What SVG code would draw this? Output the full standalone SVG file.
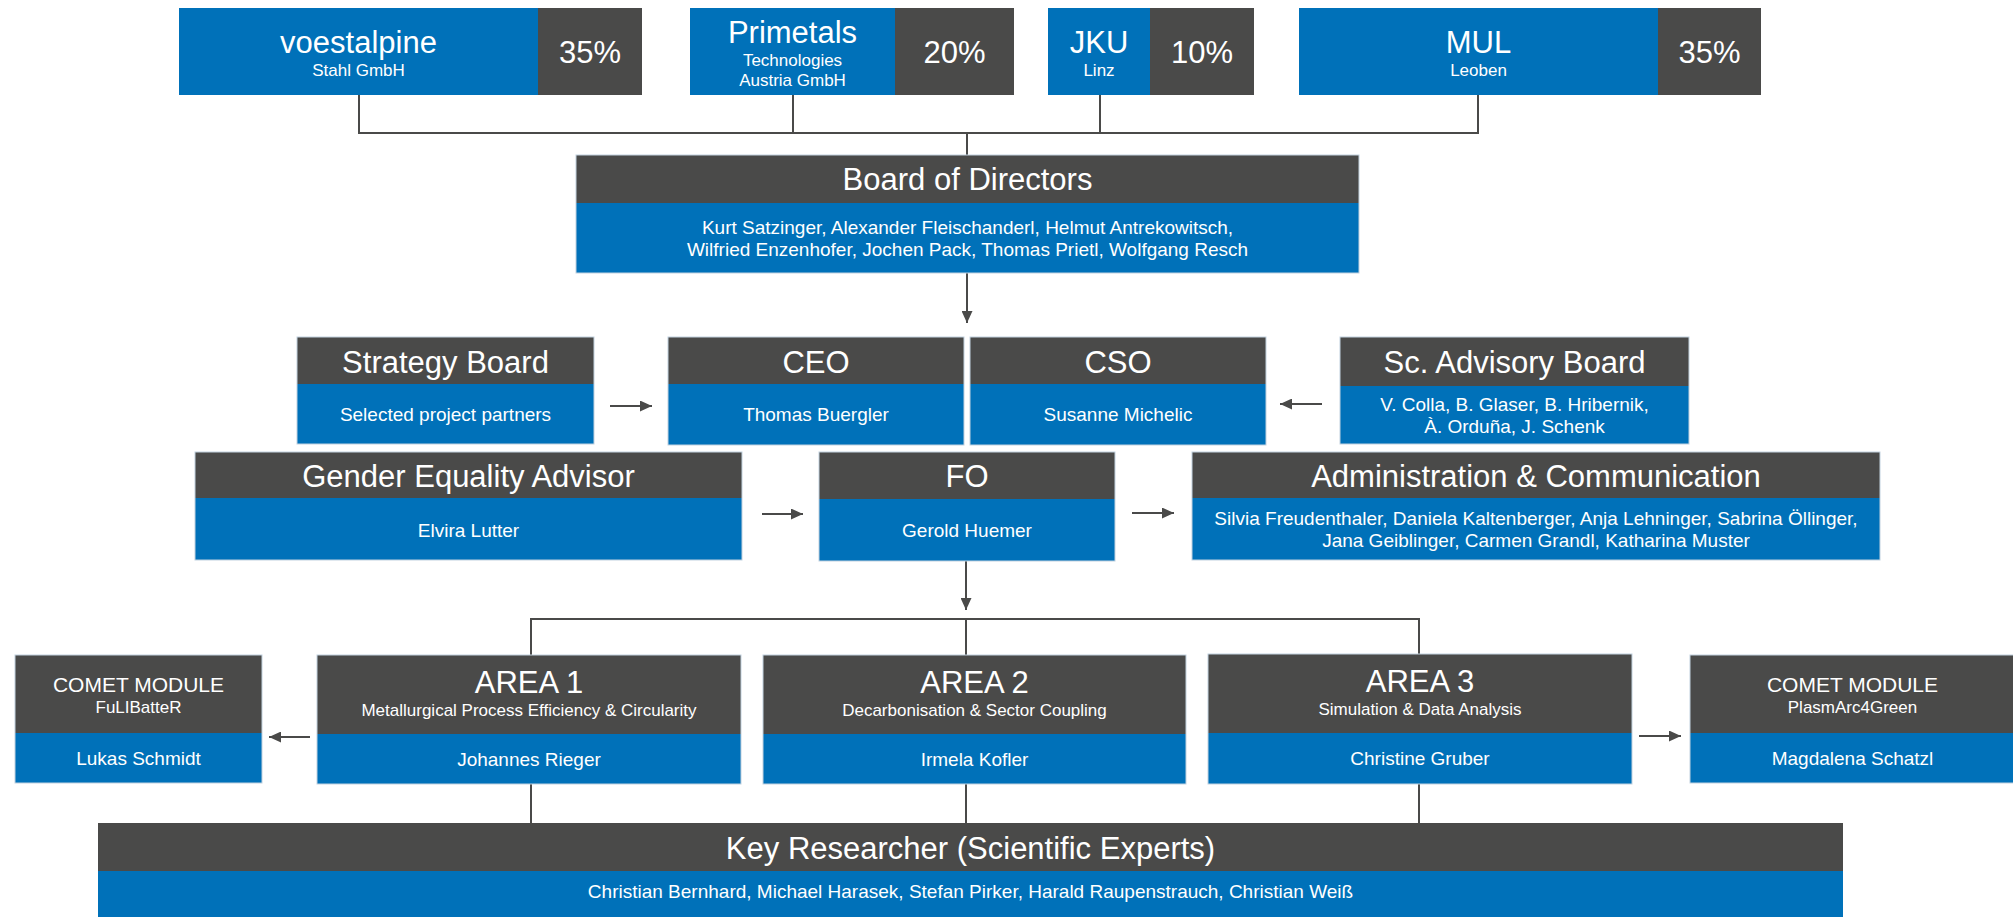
<svg xmlns="http://www.w3.org/2000/svg" width="2013" height="917" viewBox="0 0 2013 917">
<style>
.dk{fill:#4A4A49}
.bl{fill:#0071B9}
.ol{fill:none;stroke:#C2D2DF;stroke-width:1}
text{font-family:'Liberation Sans',Arial,Helvetica,sans-serif;fill:#fff;text-anchor:middle}
.h{font-size:31px}
.m{font-size:21px}
.n{font-size:19px}
.s{font-size:17px}
.ln{fill:none;stroke:#4A4A49;stroke-width:2}
.ar{fill:none;stroke:#4A4A49;stroke-width:2;marker-end:url(#ah)}
</style>
<defs>
<marker id="ah" markerUnits="userSpaceOnUse" markerWidth="12" markerHeight="11" refX="12" refY="5.5" orient="auto">
<path d="M0,0 L12,5.5 L0,11 Z" fill="#4A4A49"/>
</marker>
</defs>
<rect width="2013" height="917" fill="#fff"/>

<g id="connectors">
<path class="ln" d="M359,95 V133 M793,95 V133 M1100,95 V133 M1478,95 V133 M358,133 H1479 M967,133 V155"/>
<path class="ar" d="M967,273 V323"/>
<path class="ar" d="M610,406 H652"/>
<path class="ar" d="M1322,404 H1280"/>
<path class="ar" d="M762,514 H803"/>
<path class="ar" d="M1132,513 H1174"/>
<path class="ar" d="M966,561 V610"/>
<path class="ln" d="M531,655 V619 H1419 V655 M966,619 V655"/>
<path class="ar" d="M310,737 H269"/>
<path class="ar" d="M1639,736 H1681"/>
<path class="ln" d="M531,784 V823 M966,784 V823 M1419,784 V823"/>
</g>

<g id="voestalpine">
<rect class="bl" x="179" y="8" width="359" height="87"/>
<rect class="dk" x="538" y="8" width="104" height="87"/>
<text class="h" x="358.5" y="53">voestalpine</text>
<text class="s" x="358.5" y="76">Stahl GmbH</text>
<text class="h" x="590" y="63">35%</text>
</g>
<g id="primetals">
<rect class="bl" x="690" y="8" width="205" height="87"/>
<rect class="dk" x="895" y="8" width="119" height="87"/>
<text class="h" x="792.5" y="43">Primetals</text>
<text class="s" x="792.5" y="66">Technologies</text>
<text class="s" x="792.5" y="86">Austria GmbH</text>
<text class="h" x="954.5" y="63">20%</text>
</g>
<g id="jku">
<rect class="bl" x="1048" y="8" width="102" height="87"/>
<rect class="dk" x="1150" y="8" width="104" height="87"/>
<text class="h" x="1099" y="53">JKU</text>
<text class="s" x="1099" y="76">Linz</text>
<text class="h" x="1202" y="63">10%</text>
</g>
<g id="mul">
<rect class="bl" x="1299" y="8" width="359" height="87"/>
<rect class="dk" x="1658" y="8" width="103" height="87"/>
<text class="h" x="1478.5" y="53">MUL</text>
<text class="s" x="1478.5" y="76">Leoben</text>
<text class="h" x="1709.5" y="63">35%</text>
</g>

<g id="board">
<rect class="dk" x="576" y="155" width="783" height="48"/>
<rect class="bl" x="576" y="203" width="783" height="70"/>
<rect class="ol" x="576" y="155" width="783" height="118"/>
<text class="h" x="967.5" y="190">Board of Directors</text>
<text class="n" x="967.5" y="234">Kurt Satzinger, Alexander Fleischanderl, Helmut Antrekowitsch,</text>
<text class="n" x="967.5" y="256">Wilfried Enzenhofer, Jochen Pack, Thomas Prietl, Wolfgang Resch</text>
</g>

<g id="strategy">
<rect class="dk" x="297" y="337" width="297" height="47"/>
<rect class="bl" x="297" y="384" width="297" height="60"/>
<rect class="ol" x="297" y="337" width="297" height="107"/>
<text class="h" x="445.5" y="373">Strategy Board</text>
<text class="n" x="445.5" y="421">Selected project partners</text>
</g>
<g id="ceo">
<rect class="dk" x="668" y="337" width="296" height="47"/>
<rect class="bl" x="668" y="384" width="296" height="61"/>
<rect class="ol" x="668" y="337" width="296" height="108"/>
<text class="h" x="816" y="373">CEO</text>
<text class="n" x="816" y="421">Thomas Buergler</text>
</g>
<g id="cso">
<rect class="dk" x="970" y="337" width="296" height="47"/>
<rect class="bl" x="970" y="384" width="296" height="61"/>
<rect class="ol" x="970" y="337" width="296" height="108"/>
<text class="h" x="1118" y="373">CSO</text>
<text class="n" x="1118" y="421">Susanne Michelic</text>
</g>
<g id="advisory">
<rect class="dk" x="1340" y="337" width="349" height="49"/>
<rect class="bl" x="1340" y="386" width="349" height="58"/>
<rect class="ol" x="1340" y="337" width="349" height="107"/>
<text class="h" x="1514.5" y="373">Sc. Advisory Board</text>
<text class="n" x="1514.5" y="411">V. Colla, B. Glaser, B. Hribernik,</text>
<text class="n" x="1514.5" y="433">À. Orduña, J. Schenk</text>
</g>

<g id="gender">
<rect class="dk" x="195" y="452" width="547" height="46"/>
<rect class="bl" x="195" y="498" width="547" height="62"/>
<rect class="ol" x="195" y="452" width="547" height="108"/>
<text class="h" x="468.5" y="487">Gender Equality Advisor</text>
<text class="n" x="468.5" y="537">Elvira Lutter</text>
</g>
<g id="fo">
<rect class="dk" x="819" y="452" width="296" height="47"/>
<rect class="bl" x="819" y="499" width="296" height="62"/>
<rect class="ol" x="819" y="452" width="296" height="109"/>
<text class="h" x="967" y="487">FO</text>
<text class="n" x="967" y="537">Gerold Huemer</text>
</g>
<g id="admin">
<rect class="dk" x="1192" y="452" width="688" height="46"/>
<rect class="bl" x="1192" y="498" width="688" height="62"/>
<rect class="ol" x="1192" y="452" width="688" height="108"/>
<text class="h" x="1536" y="487">Administration &amp; Communication</text>
<text class="n" x="1536" y="525">Silvia Freudenthaler, Daniela Kaltenberger, Anja Lehninger, Sabrina Öllinger,</text>
<text class="n" x="1536" y="547">Jana Geiblinger, Carmen Grandl, Katharina Muster</text>
</g>

<g id="comet-left">
<rect class="dk" x="15" y="655" width="247" height="78"/>
<rect class="bl" x="15" y="733" width="247" height="50"/>
<rect class="ol" x="15" y="655" width="247" height="128"/>
<text class="m" x="138.5" y="692">COMET MODULE</text>
<text class="s" x="138.5" y="713">FuLIBatteR</text>
<text class="n" x="138.5" y="765">Lukas Schmidt</text>
</g>
<g id="area1">
<rect class="dk" x="317" y="655" width="424" height="79"/>
<rect class="bl" x="317" y="734" width="424" height="50"/>
<rect class="ol" x="317" y="655" width="424" height="129"/>
<text class="h" x="529" y="693">AREA 1</text>
<text class="s" x="529" y="716">Metallurgical Process Efficiency &amp; Circularity</text>
<text class="n" x="529" y="766">Johannes Rieger</text>
</g>
<g id="area2">
<rect class="dk" x="763" y="655" width="423" height="79"/>
<rect class="bl" x="763" y="734" width="423" height="50"/>
<rect class="ol" x="763" y="655" width="423" height="129"/>
<text class="h" x="974.5" y="693">AREA 2</text>
<text class="s" x="974.5" y="716">Decarbonisation &amp; Sector Coupling</text>
<text class="n" x="974.5" y="766">Irmela Kofler</text>
</g>
<g id="area3">
<rect class="dk" x="1208" y="654" width="424" height="79"/>
<rect class="bl" x="1208" y="733" width="424" height="51"/>
<rect class="ol" x="1208" y="654" width="424" height="130"/>
<text class="h" x="1420" y="692">AREA 3</text>
<text class="s" x="1420" y="715">Simulation &amp; Data Analysis</text>
<text class="n" x="1420" y="765">Christine Gruber</text>
</g>
<g id="comet-right">
<rect class="dk" x="1690" y="655" width="325" height="78"/>
<rect class="bl" x="1690" y="733" width="325" height="50"/>
<rect class="ol" x="1690" y="655" width="325" height="128"/>
<text class="m" x="1852.5" y="692">COMET MODULE</text>
<text class="s" x="1852.5" y="713">PlasmArc4Green</text>
<text class="n" x="1852.5" y="765">Magdalena Schatzl</text>
</g>

<g id="key-researcher">
<rect class="dk" x="98" y="823" width="1745" height="48"/>
<rect class="bl" x="98" y="871" width="1745" height="46"/>
<text class="h" x="970.5" y="859">Key Researcher (Scientific Experts)</text>
<text class="n" x="970.5" y="898">Christian Bernhard, Michael Harasek, Stefan Pirker, Harald Raupenstrauch, Christian Weiß</text>
</g>
</svg>
